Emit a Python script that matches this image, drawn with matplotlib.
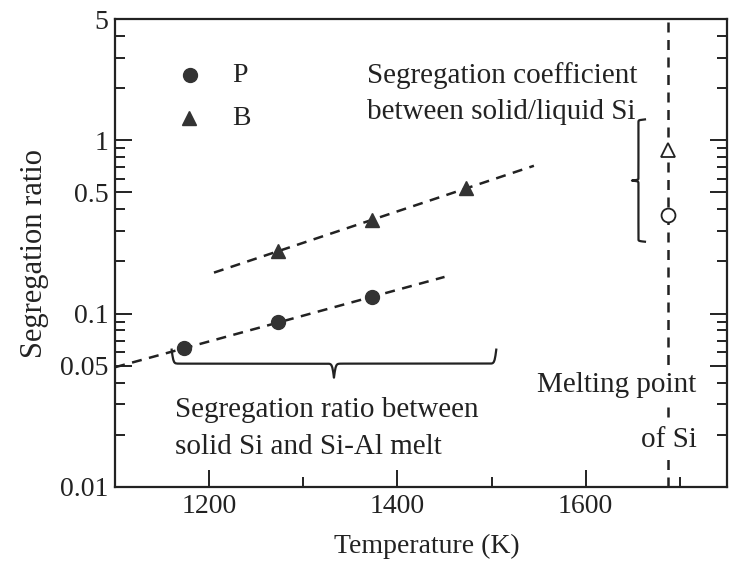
import matplotlib
matplotlib.use("Agg")
import matplotlib.pyplot as plt
import numpy as np
from matplotlib.ticker import FixedLocator, LogLocator, NullFormatter, FixedFormatter

plt.rcParams["font.family"] = ["Liberation Serif", "DejaVu Serif"]
plt.rcParams["font.size"] = 20

# data
temp_p = [1173, 1273, 1373]
ratio_p = [0.063, 0.089, 0.125]
temp_b = [1273, 1373, 1473]
ratio_b = [0.23, 0.345, 0.53]
t_melt = 1687
k0_p = 0.37
k0_b = 0.88
fit_range_p = (1100, 1450)
fit_range_b = (1205, 1545)

y_major = [0.01, 0.05, 0.1, 0.5, 1, 5]
y_labels = ["0.01", "0.05", "0.1", "0.5", "1", "5"]
x_major = [1200, 1400, 1600]

ink = "#222222"
mark = "#333333"


def brace(ax, p0, p1, depth, **kw):
    # curly brace between two data points, drawn in pixel space; tip bulges by depth (px) to the right of p0->p1
    a = ax.transData.transform(p0)
    b = ax.transData.transform(p1)
    d = b - a
    length = np.hypot(*d)
    u = d / length
    n = np.array([u[1], -u[0]])
    beta = 360.0 / length
    s = np.linspace(0, length / 2, 200)
    half = 1 / (1 + np.exp(-beta * s)) + 1 / (1 + np.exp(-beta * (s - length / 2))) - 0.5
    ss = np.concatenate([s, length - s[::-1]])
    hh = np.concatenate([half, half[::-1]])
    pts = a + np.outer(ss, u) + np.outer(hh * depth, n)
    ax.plot(pts[:, 0], pts[:, 1], transform=None, **kw)


fig = plt.figure(figsize=(7.29, 5.63), dpi=100)
ax = fig.add_axes([0.158, 0.135, 0.839, 0.831])
ax.set_yscale("log")
ax.set_xlim(1100, 1750)
ax.set_ylim(0.01, 5)

# fitted lines (log-linear)
for t, r, rng in [(temp_p, ratio_p, fit_range_p), (temp_b, ratio_b, fit_range_b)]:
    c = np.polyfit(t, np.log10(r), 1)
    tt = np.array(rng)
    ax.plot(tt, 10 ** np.polyval(c, tt), ls=(0, (4, 3)), color=ink, lw=1.8)

ax.plot(temp_p, ratio_p, "o", color=mark, ms=10)
ax.plot(temp_b, ratio_b, "^", color=mark, ms=10)

ax.axvline(t_melt, ls=(0, (4, 3)), color=ink, lw=1.8)
ax.plot([t_melt], [k0_p], "o", mfc="white", mec=ink, ms=10, mew=1.3)
ax.plot([t_melt], [k0_b], "^", mfc="white", mec=ink, ms=10, mew=1.3)

# legend-like markers
ax.plot([1180], [2.38], "o", color=mark, ms=10)
ax.plot([1178], [1.34], "^", color=mark, ms=10)
ax.text(1224, 2.38, "P", va="center", color=ink)
ax.text(1224, 1.34, "B", va="center", color=ink)

fs = 21
box = dict(facecolor="white", edgecolor="none", pad=1)
ax.text(1368, 2.38, "Segregation coefficient", va="center", color=ink, fontsize=fs)
ax.text(1368, 1.46, "between solid/liquid Si", va="center", color=ink, fontsize=fs)
ax.text(1164, 0.0278, "Segregation ratio between", va="center", color=ink, fontsize=fs)
ax.text(1164, 0.017, "solid Si and Si-Al melt", va="center", color=ink, fontsize=fs)
ax.text(1548, 0.0387, "Melting point", va="center", color=ink, fontsize=fs, bbox=box, zorder=5)
ax.text(1659, 0.0187, "of Si", va="center", color=ink, fontsize=fs, bbox=box, zorder=5)

ax.set_xlabel("Temperature (K)", color=ink)
ax.set_ylabel("Segregation ratio", color=ink, fontsize=22)
ax.xaxis.set_label_coords(0.51, -0.128)
ax.xaxis.label.set_va("center")
ax.yaxis.set_label_coords(-0.132, 0.5)
ax.yaxis.label.set_va("center")

ax.xaxis.set_major_locator(FixedLocator(x_major))
ax.xaxis.set_minor_locator(FixedLocator([1300, 1500, 1700]))
ax.yaxis.set_major_locator(FixedLocator(y_major))
ax.yaxis.set_major_formatter(FixedFormatter(y_labels))
ax.yaxis.set_minor_locator(LogLocator(base=10, subs=(2, 3, 4, 6, 7, 8, 9)))
ax.yaxis.set_minor_formatter(NullFormatter())
ax.tick_params(which="both", direction="in", right=True, color=ink, width=1.4)
ax.tick_params(which="major", length=12, labelcolor=ink, pad=5)
ax.tick_params(which="minor", length=7)
for sp in ax.spines.values():
    sp.set_linewidth(1.6)
    sp.set_color(ink)

brace(ax, (1160, 0.062), (1505, 0.062), 28, color=ink, lw=1.6)
brace(ax, (1663, 1.32), (1663, 0.26), 13, color=ink, lw=1.6)

fig.savefig("out.png", dpi=100)
